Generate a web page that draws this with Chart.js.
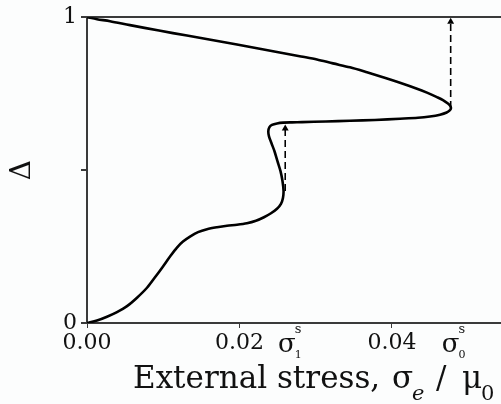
<!DOCTYPE html>
<html>
<head>
<meta charset="utf-8">
<script src="https://cdn.jsdelivr.net/npm/chart.js@4"></script>
<style>
  html, body { margin: 0; padding: 0; background: #fcfdfd; overflow: hidden; }
  #wrap { width: 505px; height: 404px; }
</style>
</head>
<body>
<div id="wrap"><canvas id="c"></canvas></div>
<script>
// curve, ordered along delta (lower branch -> loop -> upper branch)
const stress = [0, 0.00131, 0.00262, 0.00393, 0.00525, 0.00656, 0.00787, 0.00892, 0.00997, 0.01089,
  0.01180, 0.01259, 0.01351, 0.01456, 0.01574, 0.01705, 0.01836, 0.01967, 0.02098, 0.02216,
  0.02321, 0.02413, 0.02492, 0.02544, 0.02570, 0.02578, 0.02564, 0.02538, 0.02498, 0.02459,
  0.02420, 0.02387, 0.02378, 0.02391, 0.02426, 0.02492, 0.02574, 0.02689, 0.02820, 0.03134,
  0.03449, 0.03777, 0.04105, 0.04341, 0.04498, 0.04630, 0.04717, 0.04761, 0.04774, 0.04761,
  0.04734, 0.04669, 0.04590, 0.04459, 0.04328, 0.04105, 0.03882, 0.03672, 0.03449, 0.03226,
  0.03016, 0.02807, 0.02597, 0.02282, 0.01967, 0.01639, 0.01311, 0.00944, 0.00564, 0.00302,
  0.00131, 0];
const delta = [0, 0.0081, 0.0205, 0.0357, 0.0552, 0.0828, 0.1153, 0.1494, 0.1851, 0.2175,
  0.2468, 0.2662, 0.2825, 0.2971, 0.3068, 0.3133, 0.3182, 0.3214, 0.3263, 0.3344,
  0.3458, 0.3588, 0.3734, 0.3896, 0.4091, 0.4318, 0.4643, 0.4968, 0.5292, 0.5617,
  0.5877, 0.6104, 0.6266, 0.6396, 0.6477, 0.6526, 0.6552, 0.6562, 0.6568, 0.6591,
  0.6614, 0.6640, 0.6679, 0.6711, 0.6753, 0.6812, 0.6883, 0.6964, 0.7029, 0.7110,
  0.7175, 0.7289, 0.7386, 0.7532, 0.7662, 0.7857, 0.8036, 0.8198, 0.8360, 0.8490,
  0.8620, 0.8718, 0.8815, 0.8961, 0.9107, 0.9253, 0.9399, 0.9562, 0.9740, 0.9870,
  0.9935, 1];

// dashed jumps
const jumpStress = [0.0260, 0.0477];
const jumpFrom = [0.432, 0.703];
const jumpTo = [0.636, 0.985];

const xTicks = [0, 0.02, 0.04];
const yTicks = [0, 0.5, 1];
const sigmaStress = [0.0262, 0.0477];
const sigmaSub = ['1', '0'];

const serif = '"DejaVu Serif", serif';

const curve = stress.map((s, i) => ({ x: s, y: delta[i] }));

const jumps = jumpStress.map((s, i) => ({
  data: [{ x: s, y: jumpFrom[i] }, { x: s, y: jumpTo[i] }],
  showLine: true,
  borderColor: '#000',
  backgroundColor: '#000',
  borderWidth: 1.6,
  borderDash: [7, 4],
  pointStyle: 'triangle',
  pointRadius: [0, 4],
  pointBorderWidth: 0
}));

const extras = {
  id: 'extras',
  beforeDraw(chart) {
    const c = chart.ctx;
    c.save();
    c.fillStyle = '#fcfdfd';
    c.fillRect(0, 0, chart.width, chart.height);
    c.restore();
  },
  afterDraw(chart) {
    const c = chart.ctx;
    const xs = chart.scales.x;
    c.save();
    c.fillStyle = '#111';
    c.textBaseline = 'alphabetic';
    c.textAlign = 'left';
    // sigma markers under the axis
    sigmaStress.forEach((s, i) => {
      const px = xs.getPixelForValue(s);
      c.font = '26px ' + serif;
      const w = c.measureText('σ').width;
      c.fillText('σ', px - w / 2, 352);
      c.font = '13px ' + serif;
      c.fillText('s', px + w / 2 - 1, 333);
      c.font = '11px ' + serif;
      c.fillText(sigmaSub[i], px + w / 2 - 1, 358);
    });
    // axis title with subscripts
    const base = 388;
    c.font = '31px ' + serif;
    c.fillText('External stress,', 133, base);
    c.fillText('σ', 392, base);
    c.fillText('/', 436, base);
    c.fillText('μ', 462, base);
    c.font = 'italic 21px ' + serif;
    c.fillText('e', 412, base + 12);
    c.font = '21px ' + serif;
    c.fillText('0', 481, base + 12);
    c.restore();
  }
};

new Chart(document.getElementById('c'), {
  type: 'scatter',
  data: {
    datasets: [{
      data: curve,
      showLine: true,
      borderColor: '#000',
      borderWidth: 2.6,
      pointRadius: 0,
      tension: 0.3
    }, ...jumps]
  },
  options: {
    responsive: true,
    maintainAspectRatio: false,
    animation: false,
    layout: { padding: { top: 15, right: 0, left: 0, bottom: 0 } },
    plugins: { legend: { display: false }, tooltip: { enabled: false } },
    scales: {
      x: {
        type: 'linear',
        min: 0,
        max: 0.0543,
        afterBuildTicks: s => { s.ticks = xTicks.map(v => ({ value: v })); },
        afterFit: s => { s.height = 81; },
        border: { display: true, color: '#3a3a3a', width: 2 },
        grid: { drawOnChartArea: false, tickLength: 5, tickColor: '#3a3a3a' },
        ticks: {
          color: '#111',
          font: { family: serif, size: 22 },
          padding: 2,
          maxRotation: 0,
          callback: v => v.toFixed(2)
        }
      },
      y: {
        type: 'linear',
        min: 0,
        max: 1,
        afterBuildTicks: s => { s.ticks = yTicks.map(v => ({ value: v })); },
        afterFit: s => { s.width = 87; },
        border: { display: true, color: '#3a3a3a', width: 2 },
        grid: {
          color: ctx => ctx.tick && ctx.tick.value === 1 ? '#3a3a3a' : 'rgba(0,0,0,0)',
          lineWidth: 2,
          tickLength: 6,
          tickColor: '#3a3a3a'
        },
        ticks: {
          color: '#111',
          font: { family: serif, size: 22 },
          padding: 4,
          callback: v => (v === 0 || v === 1) ? String(v) : ''
        },
        title: {
          display: true,
          text: 'Δ',
          color: '#111',
          font: { family: serif, size: 28 },
          padding: { top: 6, bottom: 0 }
        }
      }
    }
  },
  plugins: [extras]
});
</script>
</body>
</html>
